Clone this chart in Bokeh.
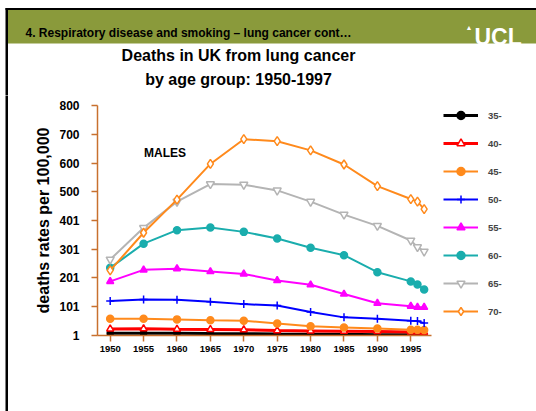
from bokeh.plotting import figure
from bokeh.layouts import column, row
from bokeh.models import FixedTicker, Label, Legend, LegendItem, Range1d
from bokeh.embed import file_html
from bokeh.resources import INLINE

# ---- data ----
years = [1950, 1955, 1960, 1965, 1970, 1975, 1980, 1985, 1990, 1995, 1996, 1997]
age_groups = ["35-", "40-", "45-", "50-", "55-", "60-", "65-", "70-"]
r35 = [9, 9, 9, 8, 7.5, 6, 5, 5, 4, 4, 4, 3]
r40 = [24, 24.5, 23, 22, 21, 18, 17, 16, 15, 13, 13, 12]
r45 = [59, 59, 57, 54, 52, 43, 33, 29, 25, 21, 21, 20]
r50 = [121, 126, 125, 118, 110, 105, 83, 64, 59, 52, 51, 44]
r55 = [189, 229, 233, 223, 215, 192, 177, 145, 113, 103, 99, 99]
r60 = [236, 320, 367, 376, 361, 338, 306, 280, 221, 189, 178, 161]
r65 = [265, 375, 466, 527, 525, 505, 466, 421, 382, 331, 308, 293]
r70 = [227, 358, 473, 597, 683, 676, 644, 595, 520, 475, 466, 440]
series = [r35, r40, r45, r50, r55, r60, r65, r70]
x_ticks = [1950, 1955, 1960, 1965, 1970, 1975, 1980, 1985, 1990, 1995]
y_ticks = [1, 101, 201, 301, 401, 500, 600, 700, 800]

header_text = "4. Respiratory disease and smoking \u2013 lung cancer cont\u2026"
title_1 = "Deaths in UK from lung cancer"
title_2 = "by age group: 1950-1997"
y_label = "deaths rates per 100,000"
panel_text = "MALES"

FONT = "Liberation Sans"
AXC = "#C8702E"
GREEN = "#8A9A3B"
ORANGE = "#FF8A1C"

styles = [
    dict(color="black", marker="circle", fill="black", lw=3, size=6),
    dict(color="#FF0000", marker="triangle", fill="white", lw=3, size=7),
    dict(color=ORANGE, marker="circle", fill=ORANGE, lw=2, size=7),
    dict(color="#0000FF", marker="cross", fill="#0000FF", lw=2, size=8),
    dict(color="#FF00FF", marker="triangle", fill="#FF00FF", lw=2, size=7),
    dict(color="#1AADAD", marker="circle", fill="#1AADAD", lw=2, size=7),
    dict(color="#B4B4B4", marker="inverted_triangle", fill="white", lw=2, size=8),
    dict(color=ORANGE, marker="diamond", fill="white", lw=2, size=9),
]


def blank(w, h):
    f = figure(width=w, height=h, output_backend="svg", toolbar_location=None,
               title=None,
               x_range=Range1d(0, w), y_range=Range1d(h, 0),
               x_axis_location=None, y_axis_location=None,
               min_border=0, min_border_left=0, min_border_right=0,
               min_border_top=0, min_border_bottom=0)
    f.outline_line_color = None
    f.grid.visible = False
    f.background_fill_color = "white"
    f.border_fill_color = "white"
    f.frame_align = False
    return f

# ---- slide header (green bar, logo, chart title) ----
HW, HH = 536, 95
hdr = blank(HW, HH)
hdr.quad(left=[7], right=[HW], top=[9], bottom=[43], fill_color=GREEN, line_color=None)
hdr.quad(left=[5], right=[HW], top=[7.5], bottom=[9.5], fill_color="black", line_color=None)
hdr.quad(left=[5], right=[7.5], top=[7.5], bottom=[HH + 5], fill_color="black", line_color=None)
hdr.add_layout(Label(x=25, y=32.5, text=header_text, text_font=FONT,
                     text_font_style="bold", text_font_size="12px",
                     text_align="left", text_baseline="alphabetic", text_color="black"))
hdr.add_layout(Label(x=474, y=36, text="UCL", text_font=FONT, text_font_style="bold",
                     text_font_size="23px", text_align="left",
                     text_baseline="alphabetic", text_color="white"))
hdr.add_layout(Label(x=465, y=27, text="\u25B2", text_font=FONT, text_font_size="7px",
                     text_align="left", text_baseline="alphabetic", text_color="white"))
hdr.add_layout(Label(x=238, y=55, text=title_1, text_font=FONT, text_font_style="bold",
                     text_font_size="16px", text_align="center",
                     text_baseline="alphabetic", text_color="black"))
hdr.add_layout(Label(x=238, y=78.5, text=title_2, text_font=FONT, text_font_style="bold",
                     text_font_size="16px", text_align="center",
                     text_baseline="alphabetic", text_color="black"))

# ---- left slide border strip ----
SW, MH = 20, 316
strip = blank(SW, MH)
strip.quad(left=[5], right=[7.5], top=[-20], bottom=[MH + 20], fill_color="black",
           line_color=None)

# ---- main chart ----
MW = 536 - SW
BL, BR, BT, BB = 97 - SW, 4, 10, 76
X0, X1 = 1948.1, 1998.1          # extent of the drawn x axis
px_per_year = 334 / (X1 - X0)
frame_w = MW - BL - BR
x_end = X0 + frame_w / px_per_year   # frame continues right to hold the legend

p = figure(width=MW, height=MH, output_backend="svg", toolbar_location=None,
           title=None,
           x_range=Range1d(X0, x_end), y_range=Range1d(1, 800),
           min_border_left=BL, min_border_right=BR, min_border_top=BT,
           min_border_bottom=BB)
p.frame_align = False
p.outline_line_color = None
p.grid.visible = False
p.background_fill_color = "white"
p.border_fill_color = "white"

items = []
for name, vals, st in zip(age_groups, series, styles):
    l = p.line(years, vals, line_color=st["color"], line_width=st["lw"])
    s = p.scatter(years, vals, marker=st["marker"], size=st["size"],
                  line_color=st["color"], fill_color=st["fill"], line_width=1.5)
    items.append(LegendItem(label=name, renderers=[l, s]))

for ax in (p.xaxis[0], p.yaxis[0]):
    ax.axis_line_color = AXC
    ax.axis_line_width = 1.5
    ax.major_tick_line_color = AXC
    ax.major_tick_line_width = 1.5
    ax.major_tick_out = 6
    ax.major_tick_in = 0
    ax.minor_tick_out = 0
    ax.minor_tick_in = 0
    ax.major_label_text_font = FONT
    ax.major_label_text_font_style = "bold"
    ax.major_label_text_color = "black"

p.xaxis.bounds = (X0, X1)
p.xaxis.ticker = FixedTicker(ticks=x_ticks)
p.xaxis.major_label_text_font_size = "9.5px"
p.xaxis.major_label_standoff = 4
p.yaxis.ticker = FixedTicker(ticks=y_ticks)
p.yaxis.major_label_text_font_size = "12px"
p.yaxis.major_label_standoff = 12
p.yaxis.axis_label = y_label
p.yaxis.axis_label_text_font = FONT
p.yaxis.axis_label_text_font_style = "bold"
p.yaxis.axis_label_text_font_size = "16px"
p.yaxis.axis_label_text_color = "black"
p.yaxis.axis_label_standoff = 4

legend = Legend(items=items, location=(346, 14), border_line_color=None,
                background_fill_alpha=0, padding=0, spacing=8, margin=0,
                glyph_height=20, glyph_width=35, label_standoff=10,
                label_text_font=FONT, label_text_font_style="bold",
                label_text_font_size="9.5px")
p.add_layout(legend)

p.add_layout(Label(x=1958.2, y=636, text=panel_text, text_font=FONT,
                   text_font_style="bold", text_font_size="12px",
                   text_align="center", text_baseline="middle", text_color="black"))

layout = column(hdr, row(strip, p, spacing=0), spacing=0)
open("out.html", "w").write(file_html(layout, INLINE))
